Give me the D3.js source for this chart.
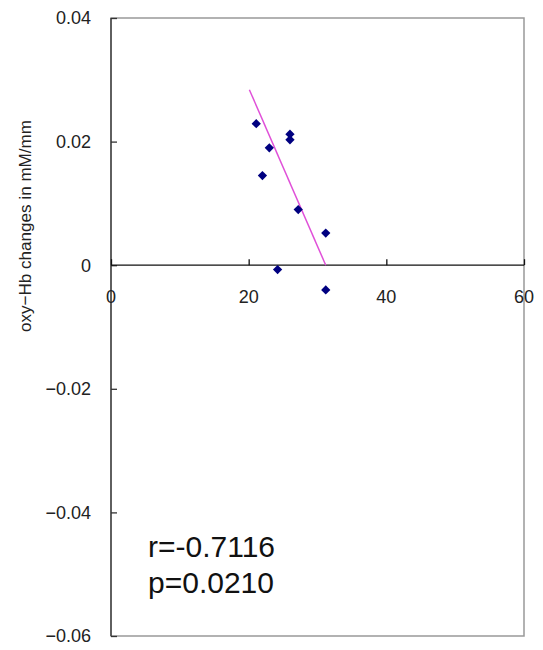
<!DOCTYPE html>
<html>
<head>
<meta charset="utf-8">
<script src="https://cdn.jsdelivr.net/npm/d3@7"></script>
<style>
  body { margin: 0; background: #fff; }
  svg { display: block; font-family: 'Liberation Sans', Arial, sans-serif; }
</style>
</head>
<body>
<div id="chart"></div>
<script>
/* data */
const ageValues = [21.1, 26.0, 26.0, 23.0, 22.0, 27.2, 31.2, 24.2, 31.2];
const hbValues = [0.0229, 0.0212, 0.0203, 0.0190, 0.0145, 0.0090, 0.0052, -0.0007, -0.0040];
const trendX = [20.1, 31.2];
const trendY = [0.0284, 0];
const xTicks = [0, 20, 40, 60];
const yTicks = [0.04, 0.02, 0, -0.02, -0.04, -0.06];
const statLines = ['r=-0.7116', 'p=0.0210'];

const margin = { top: 18, right: 19, bottom: 14, left: 111 };
const width = 543 - margin.left - margin.right;
const height = 650 - margin.top - margin.bottom;

const svg = d3.select('#chart')
  .append('svg')
  .attr('width', 543)
  .attr('height', 650)
  .append('g')
  .attr('transform', 'translate(' + margin.left + ',' + margin.top + ')');

const x = d3.scaleLinear().domain([0, 60]).range([0, width]);
const y = d3.scaleLinear().domain([-0.06, 0.04]).range([height, 0]);

/* grey frame */
svg.append('rect')
  .attr('x', 0)
  .attr('y', 0)
  .attr('width', width)
  .attr('height', height)
  .attr('fill', 'none')
  .attr('stroke', '#999')
  .attr('stroke-width', 1.5);

/* y axis with inward ticks */
const yAxis = svg.append('g')
  .call(d3.axisRight(y).tickValues(yTicks).tickSize(6).tickFormat(''));
yAxis.selectAll('line, path').attr('stroke', '#333').attr('stroke-width', 1.3);
yAxis.select('.domain').attr('d', 'M0,0V' + height);

svg.selectAll('.ylab')
  .data(yTicks)
  .enter()
  .append('text')
  .attr('x', -20)
  .attr('y', function (d) { return y(d); })
  .attr('dy', '0.36em')
  .attr('text-anchor', 'end')
  .style('font-size', '18px')
  .attr('fill', '#222')
  .text(function (d) { return d === 0 ? '0' : d3.format('.2f')(d).replace('-', '\u2212'); });

/* x axis at y = 0, ticks point up */
const xAxis = svg.append('g')
  .attr('transform', 'translate(0,' + y(0) + ')')
  .call(d3.axisTop(x).tickValues(xTicks).tickSize(6).tickFormat(''));
xAxis.selectAll('line, path').attr('stroke', '#111').attr('stroke-width', 1.3);
xAxis.select('.domain').attr('d', 'M0,0H' + width);

svg.selectAll('.xlab')
  .data(xTicks)
  .enter()
  .append('text')
  .attr('x', function (d) { return x(d); })
  .attr('y', y(0) + 31)
  .attr('dy', '0.36em')
  .attr('text-anchor', 'middle')
  .style('font-size', '18px')
  .attr('fill', '#222')
  .text(function (d) { return d; });

/* axis title */
svg.append('text')
  .attr('transform', 'translate(' + (-80) + ',' + 208 + ') rotate(-90)')
  .attr('text-anchor', 'middle')
  .style('font-size', '17px')
  .attr('textLength', 212)
  .attr('lengthAdjust', 'spacingAndGlyphs')
  .attr('fill', '#222')
  .text('oxy\u2212Hb changes in mM/mm');

/* trend line */
const line = d3.line()
  .x(function (d) { return x(d[0]); })
  .y(function (d) { return y(d[1]); });
svg.append('path')
  .attr('d', line(d3.zip(trendX, trendY)))
  .attr('fill', 'none')
  .attr('stroke', '#e050d8')
  .attr('stroke-width', 1.5);

/* diamond markers */
const diamond = d3.symbol().type(d3.symbolDiamond2).size(55);
svg.selectAll('.pt')
  .data(d3.zip(ageValues, hbValues))
  .enter()
  .append('path')
  .attr('d', diamond)
  .attr('transform', function (d) { return 'translate(' + x(d[0]) + ',' + y(d[1]) + ')'; })
  .attr('fill', '#000080');

/* statistics */
svg.selectAll('.stat')
  .data(statLines)
  .enter()
  .append('text')
  .attr('x', 37)
  .attr('y', function (d, i) { return 539 + i * 36; })
  .style('font-size', '30px')
  .attr('fill', '#111')
  .text(function (d) { return d; });
</script>
</body>
</html>
